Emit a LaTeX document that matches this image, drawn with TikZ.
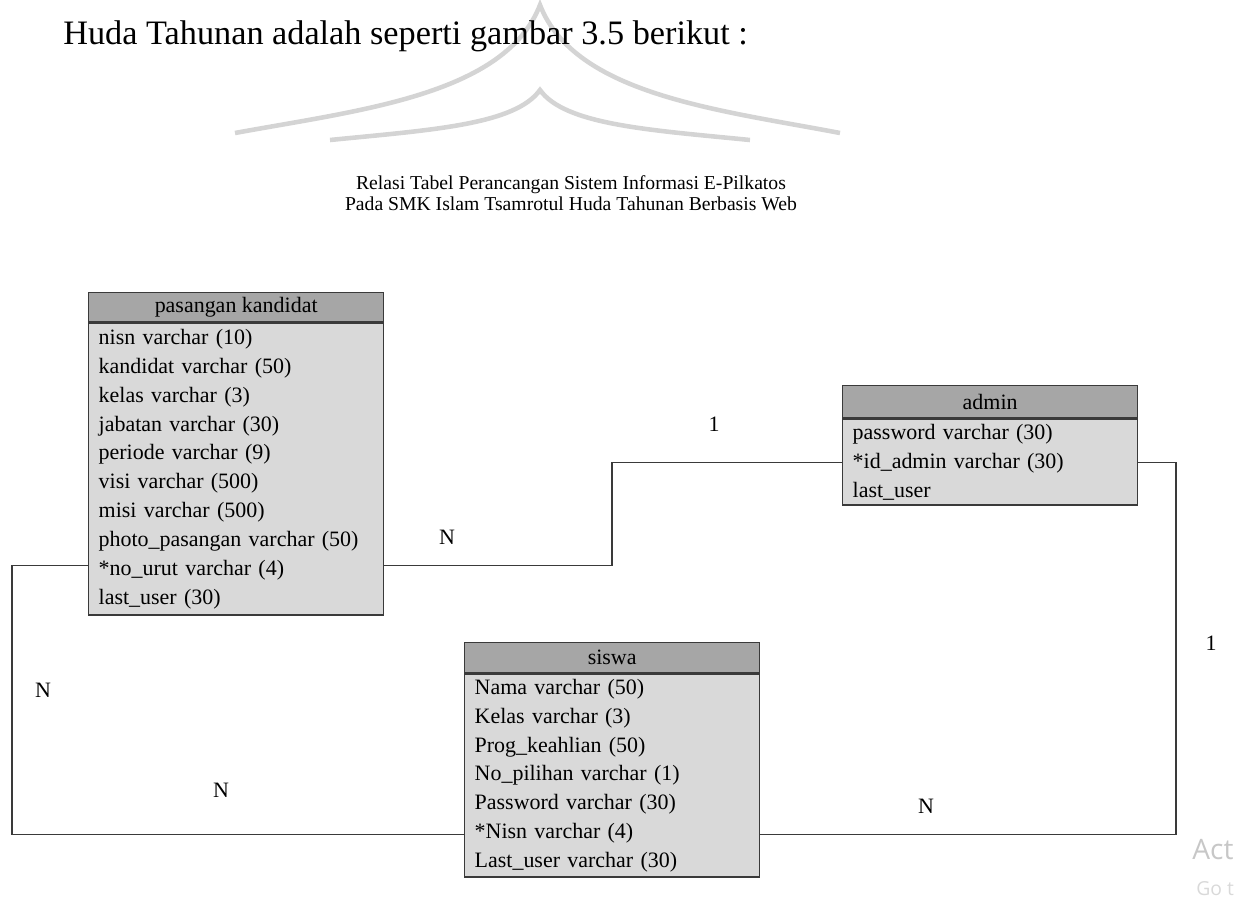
\documentclass[tikz,border=0pt]{standalone}
\usepackage{fontspec}
\setmainfont{Liberation Serif}
\newfontfamily\uisans{Open Sans}
\usetikzlibrary{positioning, calc}

\definecolor{hdrgray}{HTML}{A6A6A6}
\definecolor{bodygray}{HTML}{D9D9D9}
\definecolor{edgegray}{HTML}{3A3A3A}
\definecolor{markgray}{HTML}{D4D4D4}

\begin{document}
\begin{tikzpicture}[x=0.02cm, y=-0.02cm,
                tbl head/.style={draw=edgegray, line width=0.8pt, fill=hdrgray, minimum width=5.9cm, inner sep=0pt, anchor=north west, font=\fontsize{12.5}{15}\selectfont},
                tbl body/.style={draw=edgegray, line width=0.8pt, fill=bodygray, text width=5.5cm, inner xsep=0.2cm, inner ysep=0pt, align=left, font=\fontsize{12.5}{16.4}\selectfont},
                rel line/.style={draw=edgegray, line width=0.6pt},
                card/.style={font=\fontsize{12.5}{15}\selectfont},
                mark line/.style={draw=markgray, line width=2.6pt}]
                \useasboundingbox (0,0) rectangle (1251,896);

                % Watermark
                \draw[mark line] (235,133) .. controls (360,110) and (505,95) .. (540,5) .. controls (575,95) and (720,110) .. (840,133);
                \draw[mark line] (330,140) .. controls (430,130) and (515,125) .. (540,90) .. controls (565,125) and (650,130) .. (750,140);

                % Caption
                \node[font=\fontsize{19.5}{22}\selectfont, anchor=west, inner sep=0pt] (lead) at (63,36) {Huda Tahunan adalah seperti gambar 3.5 berikut :};
                \node[font=\fontsize{11.2}{11.9}\selectfont, align=center] (title) at (571,193) {Relasi Tabel Perancangan Sistem Informasi E-Pilkatos\\Pada SMK Islam Tsamrotul Huda Tahunan Berbasis Web};

                % Tables
                \node[tbl head, minimum height=0.58cm] (pkhead) at (88,292) {pasangan kandidat};
                \node[tbl body, minimum height=5.84cm, below=0pt of pkhead] (pk) {nisn varchar (10)\\kandidat varchar (50)\\kelas varchar (3)\\jabatan varchar (30)\\periode varchar (9)\\visi varchar (500)\\misi varchar (500)\\photo\_pasangan varchar (50)\\{*}no\_urut varchar (4)\\last\_user (30)};

                \node[tbl head, minimum height=0.64cm] (adhead) at (842,385) {admin};
                \node[tbl body, minimum height=1.72cm, below=0pt of adhead] (ad) {password varchar (30)\\{*}id\_admin varchar (30)\\last\_user};

                \node[tbl head, minimum height=0.6cm] (swhead) at (464,642) {siswa};
                \node[tbl body, minimum height=4.06cm, below=0pt of swhead] (sw) {Nama varchar (50)\\Kelas varchar (3)\\Prog\_keahlian (50)\\No\_pilihan varchar (1)\\Password varchar (30)\\{*}Nisn varchar (4)\\Last\_user varchar (30)};

                % Relations
                \coordinate (pkurut) at ($(pk.north)!0.83!(pk.south)$);
                \coordinate (adid) at ($(ad.north)!0.5!(ad.south)$);
                \coordinate (swnisn) at ($(sw.north)!0.786!(sw.south)$);
                \coordinate (leftrail) at (12,0);
                \coordinate (midrail) at (612,0);
                \coordinate (rightrail) at (1176,0);
                \draw[rel line] (pk.east |- pkurut) -- (midrail |- pkurut) |- (ad.west |- adid);
                \draw[rel line] (pk.west |- pkurut) -- (leftrail |- pkurut) |- (sw.west |- swnisn);
                \draw[rel line] (ad.east |- adid) -- (rightrail |- adid) |- (sw.east |- swnisn);

                \node[card] (pkadN) at (447,537) {N};
                \node[card] (pkad1) at (714,424) {1};
                \node[card] (pkswN) at (43,690) {N};
                \node[card] (swpkN) at (221,790) {N};
                \node[card] (swadN) at (926,806) {N};
                \node[card] (adsw1) at (1211,643) {1};

                % Screen overlay
                \node[font=\uisans\fontsize{16}{18}\selectfont, text=black!22, anchor=west, inner sep=0pt] (act) at (1192,850) {Act};
                \node[font=\uisans\fontsize{11}{13}\selectfont, text=black!15, anchor=west, inner sep=0pt] (got) at (1196,889) {Go t};
            \end{tikzpicture}
\end{document}
